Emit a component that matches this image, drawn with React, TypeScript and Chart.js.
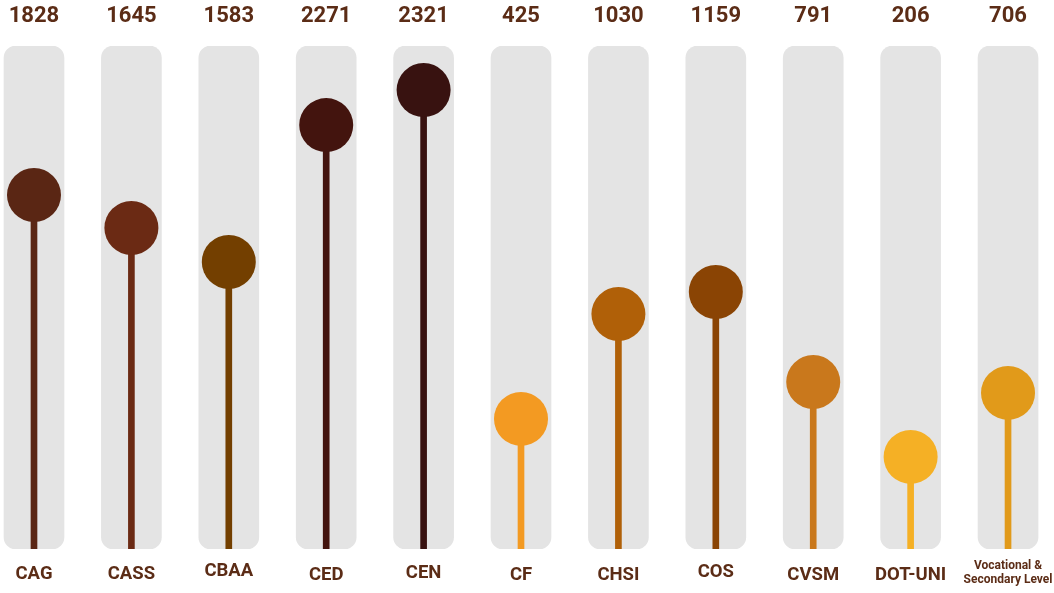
import React, { useEffect, useRef } from "react";
import { Chart, registerables } from "chart.js";

Chart.register(...registerables);

const categories: string[][] = [
  ["CAG"], ["CASS"], ["CBAA"], ["CED"], ["CEN"], ["CF"], ["CHSI"], ["COS"], ["CVSM"], ["DOT-UNI"],
  ["Vocational &", "Secondary Level"],
];
// numbers printed above each column
const valueLabels = [1828, 1645, 1583, 2271, 2321, 425, 1030, 1159, 791, 206, 706];
// heights at which the lollipop heads are drawn
const plottedValues = [1716, 1526, 1330, 2119, 2321, 425, 1030, 1157, 638, 206, 575];
const colors = [
  "#5a2614", "#6b2a14", "#733f00", "#43140e", "#381210", "#f39a22",
  "#b06008", "#8a4404", "#c9781c", "#f5b025", "#e19a1a",
];
const labelOffsets = [0, 0, -3, 1, -1, 1, 1, -2, 1, 1, 0];

const Y_MIN = -325;
const Y_MAX = 2575;
const TEXT_COLOR = "#5b2c16";

const labelPlugin = {
  id: "labels",
  afterDatasetsDraw(chart: any) {
    const { ctx, scales } = chart;
    const xs = scales.x;
    ctx.save();
    ctx.fillStyle = TEXT_COLOR;
    ctx.textAlign = "center";
    ctx.textBaseline = "middle";
    valueLabels.forEach((v, i) => {
      const x = xs.getPixelForValue(i);
      ctx.font = "bold 22px Roboto";
      ctx.fillText(String(v), x, 16);
      const lines = categories[i];
      if (lines.length === 1) {
        ctx.font = "bold 18.5px Roboto";
        ctx.fillText(lines[0], x, 574 + labelOffsets[i]);
      } else {
        ctx.font = "bold 12px Roboto";
        lines.forEach((l, j) => ctx.fillText(l, x, 566 + j * 14));
      }
    });
    ctx.restore();
  },
};

export default function App() {
  const ref = useRef<HTMLCanvasElement>(null);
  useEffect(() => {
    const idx = categories.map((_, i) => i);
    const chart = new Chart(ref.current!, {
      type: "bar",
      data: {
        datasets: [
          {
            type: "scatter",
            data: plottedValues.map((v, i) => ({ x: i, y: v })),
            pointRadius: 27,
            pointHoverRadius: 27,
            backgroundColor: colors,
            borderWidth: 0,
            order: 1,
            clip: false,
          } as any,
          {
            type: "bar",
            data: plottedValues.map((v, i) => ({ x: i, y: [Y_MIN, v] })),
            backgroundColor: colors,
            barThickness: 6,
            grouped: false,
            order: 2,
          } as any,
          {
            type: "bar",
            data: idx.map((i) => ({ x: i, y: [Y_MIN, Y_MAX] })),
            backgroundColor: "#e4e4e4",
            barThickness: 60,
            borderRadius: 12,
            borderSkipped: false,
            grouped: false,
            order: 3,
          } as any,
        ],
      },
      options: {
        animation: false,
        responsive: false,
        maintainAspectRatio: false,
        events: [],
        layout: { autoPadding: false, padding: { top: 46, bottom: 44, left: 0, right: 0 } },
        plugins: { legend: { display: false }, tooltip: { enabled: false } },
        scales: {
          x: { type: "linear", offset: false, min: -0.349, max: 10.472, display: false },
          y: { min: Y_MIN, max: Y_MAX, display: false },
        },
      },
      plugins: [labelPlugin],
    });
    return () => chart.destroy();
  }, []);
  return (
    <div style={{ position: "fixed", left: 0, top: 0, width: 1054, height: 593, background: "#fff" }}>
      <canvas ref={ref} width={1054} height={593} style={{ width: 1054, height: 593 }} />
    </div>
  );
}
